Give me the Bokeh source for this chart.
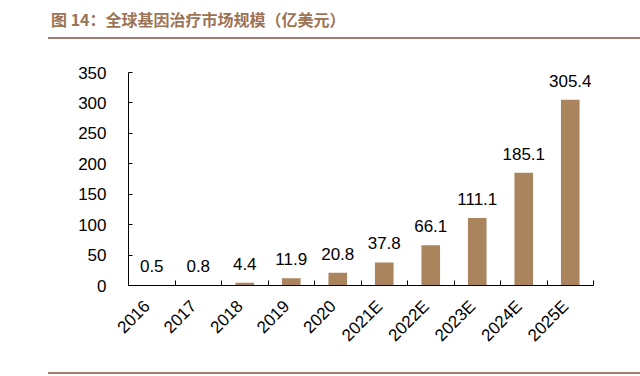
import math
from bokeh.plotting import figure
from bokeh.layouts import column
from bokeh.models import (Range1d, FixedTicker, ColumnDataSource, Div)
from bokeh.core.properties import value
from bokeh.embed import file_html
from bokeh.resources import INLINE

# ---- data ----
years = ["2016", "2017", "2018", "2019", "2020", "2021E", "2022E", "2023E", "2024E", "2025E"]
market = [0.5, 0.8, 4.4, 11.9, 20.8, 37.8, 66.1, 111.1, 185.1, 305.4]
value_labels = ["0.5", "0.8", "4.4", "11.9", "20.8", "37.8", "66.1", "111.1", "185.1", "305.4"]
y_ticks = [0, 50, 100, 150, 200, 250, 300, 350]
title_text = "图 14：全球基因治疗市场规模（亿美元）"

BAR = "#a9845c"
RULE = "#a27c6c"
TITLE_C = "#9c7355"
NUM_FONT = "Liberation Sans"
FS = "17px"
W = 640
TOP_H, MAIN_H, BOT_H = 40, 330, 6

# ---- header: title + rule ----
top = Div(width=W, height=TOP_H, styles={"position": "relative", "margin": "0", "padding": "0"},
          text=(f'<div style="position:absolute;left:51px;top:7px;white-space:nowrap;'
                f'font-family:\'Noto Sans CJK SC\';font-weight:bold;font-size:16px;'
                f'line-height:24px;color:{TITLE_C}">{title_text}</div>'
                f'<div style="position:absolute;left:48px;top:37px;width:{W-48}px;height:2px;'
                f'background:{RULE}"></div>'))

# ---- main chart ----
n = len(years)
centers = [i + 0.5 for i in range(n)]
bounds = list(range(n + 1))
label_pos = [c - 0.1 for c in centers]

src = ColumnDataSource(dict(x=centers, top=market, lab=value_labels))

p = figure(width=W, height=MAIN_H, output_backend="svg", toolbar_location=None,
           x_range=Range1d(0, n), y_range=Range1d(0, 350),
           min_border_left=128, min_border_right=47,
           min_border_top=32, min_border_bottom=85)
p.outline_line_color = None
p.xgrid.visible = False
p.ygrid.visible = False
p.background_fill_color = "white"
p.border_fill_color = "white"

p.vbar(x="x", top="top", width=0.4, source=src, fill_color=BAR, line_color=None)
p.text(x="x", y="top", text="lab", source=src, text_align="center",
       text_baseline="alphabetic", y_offset=-19,
       text_font=value(NUM_FONT), text_font_size=FS, text_color="#000000")

ya = p.yaxis[0]
ya.ticker = FixedTicker(ticks=y_ticks)
ya.major_tick_in = 4
ya.major_tick_out = 0
ya.minor_tick_line_color = None
ya.major_label_standoff = 22
ya.major_label_text_font = NUM_FONT
ya.major_label_text_font_size = FS
ya.major_label_text_color = "#000000"
ya.axis_line_color = "#000000"
ya.major_tick_line_color = "#000000"

xa = p.xaxis[0]
xa.ticker = FixedTicker(ticks=label_pos, minor_ticks=bounds)
xa.major_label_overrides = {c: y for c, y in zip(label_pos, years)}
xa.major_tick_line_color = None
xa.minor_tick_line_color = "#000000"
xa.minor_tick_in = 5
xa.minor_tick_out = 0
xa.major_tick_in = 0
xa.major_tick_out = 0
xa.major_label_orientation = math.pi / 4
xa.major_label_standoff = 18
xa.major_label_text_font = NUM_FONT
xa.major_label_text_font_size = FS
xa.major_label_text_color = "#000000"
xa.axis_line_color = "#000000"

# ---- footer rule ----
bot = Div(width=W, height=BOT_H, styles={"position": "relative", "margin": "0", "padding": "0"},
          text=(f'<div style="position:absolute;left:48px;top:2px;width:{W-48}px;height:2px;'
                f'background:{RULE}"></div>'))

layout = column(top, p, bot, spacing=0)
open("out.html", "w").write(file_html(layout, INLINE))
